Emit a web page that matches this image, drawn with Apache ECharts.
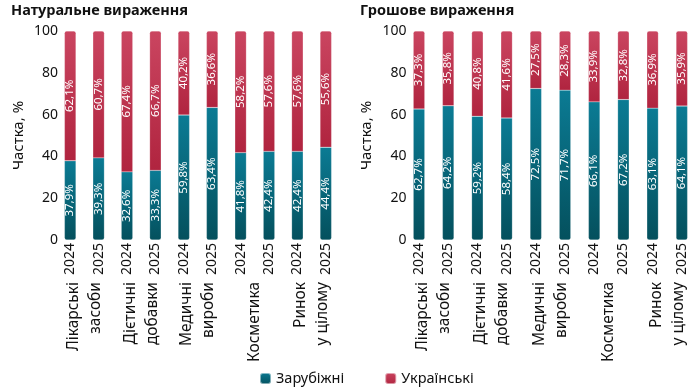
<!DOCTYPE html>
<html><head><meta charset="utf-8">
<script src="https://cdn.jsdelivr.net/npm/echarts@6/dist/echarts.min.js"></script>
<style>html,body{margin:0;padding:0;background:#fff}#c{width:697px;height:390px}</style>
</head><body><div id="c"></div>
<script>
var years = ['2024','2025','2024','2025','2024','2025','2024','2025','2024','2025'];
var groups = ['Лікарські\nзасоби','Дієтичні\nдобавки','Медичні\nвироби','Косметика','Ринок\nу цілому'];
var titles = ['Натуральне вираження','Грошове вираження'];
var seriesNames = ['Зарубіжні','Українські'];
var natForeign = [37.9,39.3,32.6,33.3,59.8,63.4,41.8,42.4,42.4,44.4];
var natUkr = [62.1,60.7,67.4,66.7,40.2,36.6,58.2,57.6,57.6,55.6];
var monForeign = [62.7,64.2,59.2,58.4,72.5,71.7,66.1,67.2,63.1,64.1];
var monUkr = [37.3,35.8,40.8,41.6,27.5,28.3,33.9,32.8,36.9,35.9];
var yTicks = [0,20,40,60,80,100];

var FONT = 'Noto Sans';
var teal = {type:'linear',x:0,y:0,x2:0,y2:1,colorStops:[{offset:0,color:'#0b7b94'},{offset:1,color:'#04505d'}]};
var red = {type:'linear',x:0,y:0,x2:0,y2:1,colorStops:[{offset:0,color:'#ca4560'},{offset:1,color:'#b0243f'}]};

var grids = [
  {left:56, top:31, width:284, height:209},
  {left:56, top:31, width:284, height:209},
  {left:404.4, top:31, width:292, height:209},
  {left:404.4, top:31, width:292, height:209}
];
var xAxes = [], yAxes = [], series = [];
function fmt(p){ return p.value.toFixed(1).replace('.',',') + '%'; }
var dataSets = [[natForeign, natUkr],[monForeign, monUkr]];
for (var k=0;k<2;k++){
  var g = k*2;
  xAxes.push({type:'category', gridIndex:g, data:years,
    axisLine:{show:false}, axisTick:{show:false},
    axisLabel:{rotate:90, margin:3, fontSize:14, color:'#111', fontFamily:FONT, interval:0}});
  xAxes.push({type:'category', gridIndex:g+1, data:groups,
    axisLine:{show:false}, axisTick:{show:false},
    axisLabel:{rotate:90, margin:42, fontSize:15.5, lineHeight:22, color:'#111', fontFamily:FONT, interval:0}});
  yAxes.push({type:'value', gridIndex:g, min:yTicks[0], max:yTicks[yTicks.length-1], interval:20,
    name:'Частка, %', nameLocation:'middle', nameGap:30, nameRotate:90,
    nameTextStyle:{fontSize:15, color:'#111', fontFamily:FONT},
    axisLine:{show:false}, axisTick:{show:false}, splitLine:{show:false},
    axisLabel:{margin:-2, fontSize:14, color:'#111', fontFamily:FONT}});
  yAxes.push({type:'value', gridIndex:g+1, show:false, min:0, max:100});
  var lbl = {show:true, position:'inside', rotate:90, color:'#fff', fontSize:11.5, fontFamily:FONT, formatter:fmt};
  series.push({name:seriesNames[0], type:'bar', stack:'s'+k, xAxisIndex:g, yAxisIndex:g,
    data:dataSets[k][0], barWidth:11.5,
    itemStyle:{color:teal, borderRadius:[0,0,2,2], borderColor:'rgba(255,255,255,0.5)', borderWidth:0.4},
    label:lbl});
  series.push({name:seriesNames[1], type:'bar', stack:'s'+k, xAxisIndex:g, yAxisIndex:g,
    data:dataSets[k][1], barWidth:11.5,
    itemStyle:{color:red, borderRadius:[2,2,0,0], borderColor:'rgba(255,255,255,0.5)', borderWidth:0.4},
    label:lbl});
}

var chart = echarts.init(document.getElementById('c'));
chart.setOption({
  animation:false,
  color:['#0a6f86','#c4344f'],
  title:[
    {text:titles[0], left:6, top:-2, textStyle:{fontSize:14.5, fontWeight:'bold', color:'#111', fontFamily:FONT}},
    {text:titles[1], left:355, top:-2, textStyle:{fontSize:14.5, fontWeight:'bold', color:'#111', fontFamily:FONT}}
  ],
  legend:{data:seriesNames, left:254, top:366, icon:'roundRect', itemWidth:11, itemHeight:11, itemGap:40,
    textStyle:{fontSize:14.5, color:'#111', fontFamily:FONT}},
  grid:grids, xAxis:xAxes, yAxis:yAxes, series:series
});
</script></body></html>
